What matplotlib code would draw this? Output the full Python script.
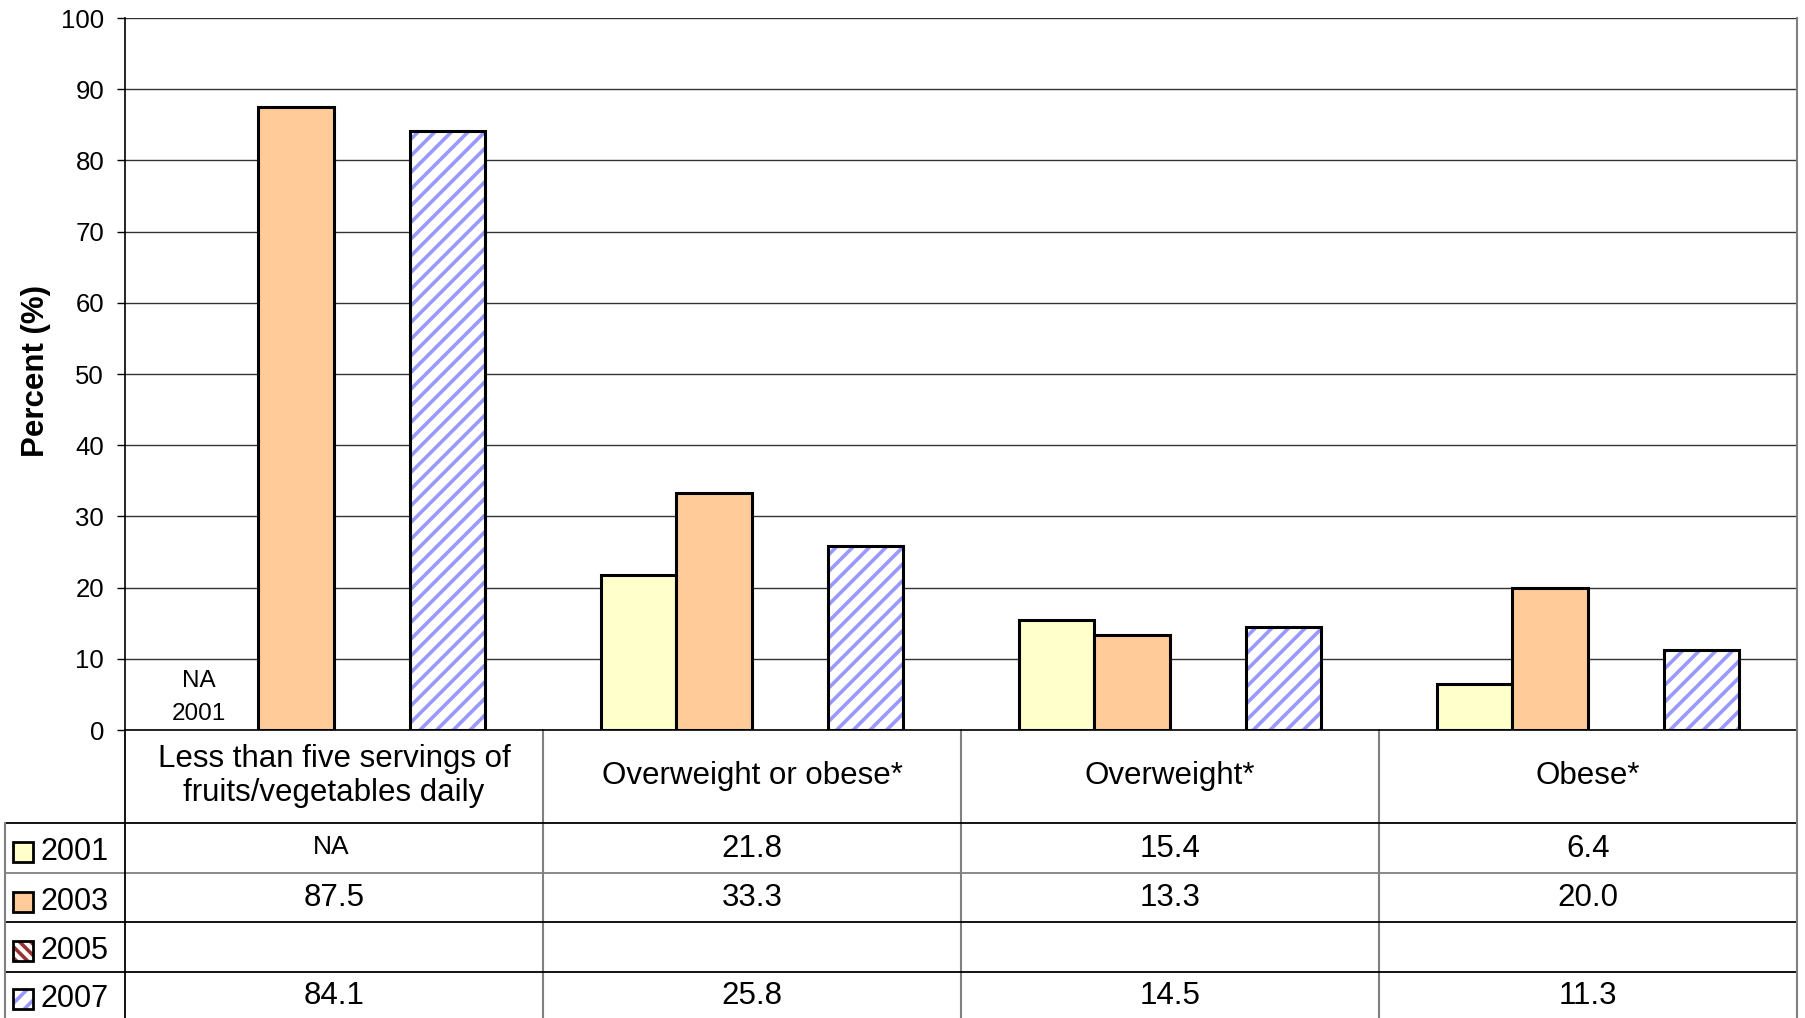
import matplotlib.pyplot as plt
import matplotlib.transforms as mtransforms
from matplotlib.patches import Rectangle
from matplotlib.lines import Line2D
import numpy as np

#--------data--------------
categories = ["Less than five servings of\nfruits/vegetables daily",
              "Overweight or obese*", "Overweight*", "Obese*"]
years = ["2001", "2003", "2005", "2007"]
v2001 = [None, 21.8, 15.4, 6.4]
v2003 = [87.5, 33.3, 13.3, 20.0]
v2005 = [None, None, None, None]
v2007 = [84.1, 25.8, 14.5, 11.3]
series = [v2001, v2003, v2005, v2007]
yticks = list(range(0, 101, 10))

W, H = 1805, 1018
plt.rcParams['font.family'] = ['Liberation Sans', 'DejaVu Sans']
plt.rcParams['hatch.linewidth'] = 2.6

def fx(px):
    return px / W

def fy(py):
    return 1 - py / H

fig = plt.figure(figsize=(W / 100, H / 100), dpi=100)
ax = fig.add_axes([fx(125), fy(730), fx(1797) - fx(125), fy(18) - fy(730)])

x = np.arange(len(categories))
bw = 0.181
offsets = [-1.5 * bw, -0.5 * bw, 0.5 * bw, 1.5 * bw]

# 2001 / 2003 solid bars
for vals, off, col in [(v2001, offsets[0], '#FFFFCC'), (v2003, offsets[1], '#FFCC99')]:
    xs = [xi + off for xi, v in zip(x, vals) if v is not None]
    ys = [v for v in vals if v is not None]
    ax.bar(xs, ys, bw, color=col, edgecolor='black', linewidth=2.2, zorder=3)

# 2007 striped bars
xs7 = x + offsets[3]
ax.bar(xs7, v2007, bw, color='white', edgecolor='#9999FF', hatch='//', linewidth=0, zorder=3)
ax.bar(xs7, v2007, bw, fill=False, edgecolor='black', linewidth=2.2, zorder=4)

# NA note for 2001 in first category
ax.text(-0.323, 6.9, "NA", ha='center', va='center', fontsize=17.5)
ax.text(-0.323, 2.2, "2001", ha='center', va='center', fontsize=17.5)

ax.set_xlim(-0.5, 3.5)
ax.set_ylim(0, 100)
ax.set_yticks(yticks)
ax.set_xticks([])
ax.tick_params(axis='y', length=6, width=1, pad=9, labelsize=18.5)
ax.yaxis.grid(True, color='#333333', linewidth=1)
ax.set_axisbelow(True)
ax.spines['top'].set_visible(False)
ax.spines['right'].set_color('#808080')
ax.spines['right'].set_linewidth(1.5)
ax.spines['left'].set_linewidth(1.2)
ax.spines['bottom'].set_linewidth(1.2)
fig.text(fx(36), fy(371), "Percent (%)", rotation=90, ha='center', va='center',
         fontsize=22.5, fontweight='bold')

# --------data table below the axes--------------
trans = mtransforms.blended_transform_factory(ax.transData, fig.transFigure)
row_lines = [823, 873, 922, 972]
row_centers = [848, 897.5, 947, 995]

for i, yl in enumerate(row_lines):
    c = '#808080' if yl == 873 else 'black'
    fig.add_artist(Line2D([fx(5), fx(1797)], [fy(yl), fy(yl)], color=c, lw=1.3))
fig.add_artist(Line2D([fx(5), fx(5)], [fy(823), fy(1018)], color='#808080', lw=1.5))
fig.add_artist(Line2D([fx(125), fx(125)], [fy(730), fy(1018)], color='black', lw=1.3))
for xb in [0.5, 1.5, 2.5]:
    ax.plot([xb, xb], [fy(730), fy(1018)], transform=trans, color='#808080',
            lw=1.5, clip_on=False)
fig.add_artist(Line2D([fx(1797), fx(1797)], [fy(730), fy(1018)], color='#808080', lw=1.5))

for xi, cat in zip(x, categories):
    ax.text(xi, fy(776), cat, transform=trans, ha='center', va='center',
            fontsize=22.5, linespacing=1.15)

for r, vals in enumerate(series):
    for xi, v in zip(x, vals):
        if v is not None:
            ax.text(xi, fy(row_centers[r] + 1), f"{v:.1f}", transform=trans,
                    ha='center', va='center', fontsize=22.5)
ax.text(x[0] - 0.007, fy(row_centers[0] - 1), "NA", transform=trans,
        ha='center', va='center', fontsize=19)

# legend keys in the table
key_styles = [
    dict(face='#FFFFCC', hatch=None, hcol=None),
    dict(face='#FFCC99', hatch=None, hcol=None),
    dict(face='white', hatch='\\\\\\', hcol='#993333'),
    dict(face='white', hatch='//', hcol='#9999FF'),
]
for r, (yr, st) in enumerate(zip(years, key_styles)):
    cy = row_centers[r] + 4
    x0, y0 = fx(13), fy(cy + 10)
    w, h = fx(33) - fx(13), fy(cy - 10) - fy(cy + 10)
    if st['hatch']:
        fig.add_artist(Rectangle((x0, y0), w, h, transform=fig.transFigure,
                                 facecolor=st['face'], edgecolor=st['hcol'],
                                 hatch=st['hatch'], linewidth=0))
        fig.add_artist(Rectangle((x0, y0), w, h, transform=fig.transFigure,
                                 fill=False, edgecolor='black', linewidth=2))
    else:
        fig.add_artist(Rectangle((x0, y0), w, h, transform=fig.transFigure,
                                 facecolor=st['face'], edgecolor='black', linewidth=2))
    fig.text(fx(41), fy(cy), yr, ha='left', va='center', fontsize=22)

fig.savefig("out.png", dpi=100)
